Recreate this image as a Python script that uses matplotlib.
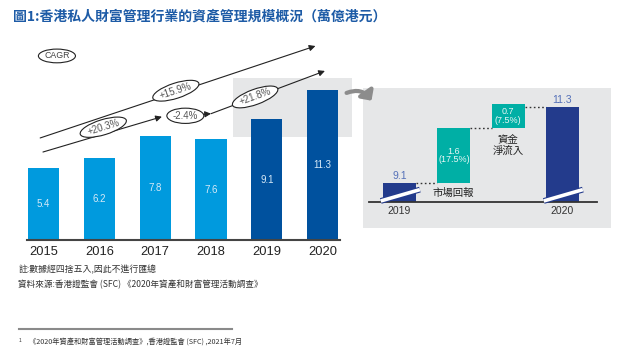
import matplotlib
matplotlib.use("Agg")
import matplotlib.pyplot as plt
from matplotlib.patches import Rectangle, FancyArrowPatch

plt.rcParams['font.family'] = ['Liberation Sans', 'Noto Sans CJK TC', 'DejaVu Sans']
CJK = ['Noto Sans CJK TC', 'DejaVu Sans']

# ---------------- data ----------------
years = ["2015", "2016", "2017", "2018", "2019", "2020"]
aum = [5.4, 6.2, 7.8, 7.6, 9.1, 11.3]
cagr_labels = ["+15.9%", "+20.3%", "-2.4%", "+21.8%"]

wf_start_label = "2019"
wf_end_label = "2020"
wf_start = 9.1
wf_market = 1.6
wf_market_pct = "17.5%"
wf_inflow = 0.7
wf_inflow_pct = "7.5%"
wf_end = 11.3
wf_market_label = "市場回報"
wf_inflow_label = "資金\n淨流入"

title = "圖1:香港私人財富管理行業的資產管理規模概況（萬億港元）"
note1 = "註:數據經四捨五入,因此不進行匯總"
note2 = "資料來源:香港證監會 (SFC) 《2020年資產和財富管理活動調查》"
footnote = "《2020年資產和財富管理活動調查》,香港證監會 (SFC) ,2021年7月"

# ---------------- style ----------------
LIGHT = "#009ADE"
DARK = "#00519E"
NAVY = "#233B8C"
TEAL = "#00AFA5"
GREY_BG = "#E6E7E8"
W, H = 623, 350

fig = plt.figure(figsize=(W / 100, H / 100), dpi=100)

def fx(x):
    return x / W

def fy(y):
    return 1 - y / H

fig.text(fx(13), fy(17), title, fontsize=10, fontweight='bold', color="#1D5BA6",
         va='center', ha='left', family=CJK)

# ---------------- left bar chart ----------------
ax = fig.add_axes([fx(27), fy(240), 313 / W, 210 / H])
ax.set_xlim(-0.296, 5.31)
ax.set_ylim(0, 210 / 13.27)
ax.patch.set_alpha(0)
for s in ['top', 'right', 'left']:
    ax.spines[s].set_visible(False)
ax.spines['bottom'].set_color('#444444')
ax.spines['bottom'].set_linewidth(1.5)
ax.set_yticks([])
xs = list(range(len(years)))
ax.set_xticks(xs)
ax.set_xticklabels(years, fontsize=9.3, color='#222222')
ax.tick_params(axis='x', length=0, pad=4)

colors = [LIGHT] * 4 + [DARK] * 2
ax.bar(xs, aum, width=0.56, color=colors, zorder=2)
for x, v in zip(xs, aum):
    ax.text(x, v / 2, f"{v}", ha='center', va='center', fontsize=7, color='#D6E9F7', zorder=3)

# highlight box behind 2019-2020
ax.add_patch(Rectangle((3.40, 7.76), 2.13, 4.44, facecolor=GREY_BG, edgecolor='none',
                       zorder=0.5, clip_on=False))

arrow_kw = dict(arrowstyle="-|>", color="#222222", lw=0.8, mutation_scale=9,
                shrinkA=0, shrinkB=0)
ax.annotate("", xy=(4.87, 14.62), xytext=(-0.06, 7.69), arrowprops=arrow_kw, zorder=4)
ax.annotate("", xy=(2.12, 9.29), xytext=(-0.01, 6.63), arrowprops=arrow_kw, zorder=4)
ax.annotate("", xy=(3.0, 9.52), xytext=(2.85, 9.46), arrowprops=arrow_kw, zorder=4)
ax.annotate("", xy=(5.04, 12.74), xytext=(3.0, 9.52), arrowprops=arrow_kw, zorder=4)

bbox = dict(boxstyle="ellipse,pad=0.04", fc='white', ec='#222222', lw=0.8)
ax.text(0.24, 13.87, "CAGR", ha='center', va='center', fontsize=6.3, color='#444444',
        bbox=bbox, zorder=5)
ax.text(2.37, 11.25, cagr_labels[0], ha='center', va='center', fontsize=7, color='#555555',
        rotation=18, rotation_mode='anchor', bbox=bbox, zorder=5)
ax.text(1.07, 8.5, cagr_labels[1], ha='center', va='center', fontsize=7, color='#555555',
        rotation=17, rotation_mode='anchor', bbox=bbox, zorder=5)
ax.text(2.54, 9.36, cagr_labels[2], ha='center', va='center', fontsize=7, color='#555555',
        bbox=bbox, zorder=5)
ax.text(3.79, 10.78, cagr_labels[3], ha='center', va='center', fontsize=7, color='#555555',
        rotation=20, rotation_mode='anchor', bbox=bbox, zorder=5)

# ---------------- curved arrow ----------------
fig.patches.append(FancyArrowPatch((fx(344), fy(94)), (fx(373), fy(103)),
                                   transform=fig.transFigure,
                                   connectionstyle="arc3,rad=-0.45",
                                   arrowstyle="-|>,head_length=2.5,head_width=2.5",
                                   color='#8C8C8C', lw=3, mutation_scale=2))

# ---------------- right waterfall ----------------
ax2 = fig.add_axes([fx(363), fy(228), 248 / W, 140 / H])
ax2.set_facecolor(GREY_BG)
for s in ax2.spines.values():
    s.set_visible(False)
ax2.set_xticks([])
ax2.set_yticks([])
base = 8.55
ax2.set_xlim(-0.672, 3.893)
ax2.set_ylim(base - 26 / 34.4, base + 114 / 34.4)
bw = 0.61

ax2.bar(0, wf_start - base, bottom=base, width=bw, color=NAVY, zorder=2)
ax2.bar(1, wf_market, bottom=wf_start, width=bw, color=TEAL, zorder=2)
ax2.bar(2, wf_inflow, bottom=wf_start + wf_market, width=bw, color=TEAL, zorder=2)
ax2.bar(3, wf_end - base, bottom=base, width=bw, color=NAVY, zorder=2)

ax2.axhline(base, xmin=6 / 248, xmax=234 / 248, color='#333333', lw=1.3, zorder=3)

dot = dict(color='#333333', lw=1.0, ls=(0, (1.2, 1.8)), zorder=1)
ax2.plot([0 + bw / 2, 1 - bw / 2], [wf_start, wf_start], **dot)
ax2.plot([1 + bw / 2, 2 - bw / 2], [wf_start + wf_market] * 2, **dot)
ax2.plot([2 + bw / 2, 3 - bw / 2], [wf_end, wf_end], **dot)

# scale-break slashes
for xc in (0, 3):
    xx = [xc - bw / 2 - 0.04, xc + bw / 2 + 0.07]
    yy = [base + 0.03, base + 0.36]
    ax2.plot(xx, yy, color='#233B8C', lw=4.2, solid_capstyle='butt', zorder=4)
    ax2.plot(xx, yy, color='white', lw=2.6, solid_capstyle='butt', zorder=5)

lab_col = '#5470B8'
ax2.text(0, wf_start + 0.06, f"{wf_start}", ha='center', va='bottom', fontsize=7.5, color=lab_col)
ax2.text(3, wf_end + 0.06, f"{wf_end}", ha='center', va='bottom', fontsize=7.5, color=lab_col)
ax2.text(1, wf_start + wf_market / 2, f"{wf_market}\n({wf_market_pct})", ha='center', va='center',
         fontsize=6.5, color='#E8F7F5', linespacing=0.95, zorder=3)
ax2.text(2, wf_start + wf_market + wf_inflow / 2, f"{wf_inflow}\n({wf_inflow_pct})", ha='center',
         va='center', fontsize=6.5, color='#E8F7F5', linespacing=0.95, zorder=3)
ax2.text(0.985, base + 9 / 34.4, wf_market_label, ha='center', va='center', fontsize=7.5,
         color='#222222', family=CJK)
ax2.text(2.0, base + 57 / 34.4, wf_inflow_label, ha='center', va='center', fontsize=7.5,
         color='#222222', family=CJK, linespacing=1.1)
ax2.text(0, base - 9 / 34.4, wf_start_label, ha='center', va='center', fontsize=7.5, color='#333333')
ax2.text(3, base - 9 / 34.4, wf_end_label, ha='center', va='center', fontsize=7.5, color='#333333')

# ---------------- notes ----------------
fig.text(fx(19), fy(270), note1, fontsize=6.4, color='#333333', va='center', ha='left', family=CJK)
fig.text(fx(18), fy(285), note2, fontsize=6.2, color='#333333', va='center', ha='left', family=CJK)
fig.add_artist(plt.Line2D([fx(19), fx(232)], [fy(329), fy(329)], color='#8A8A8A', lw=1.5,
                          transform=fig.transFigure))
fig.text(fx(19), fy(341), "1", fontsize=3.5, color='#333333', va='center', ha='left')
fig.text(fx(29), fy(342), footnote, fontsize=5.2, color='#333333', va='center', ha='left', family=CJK)

fig.savefig("out.png", dpi=100)
